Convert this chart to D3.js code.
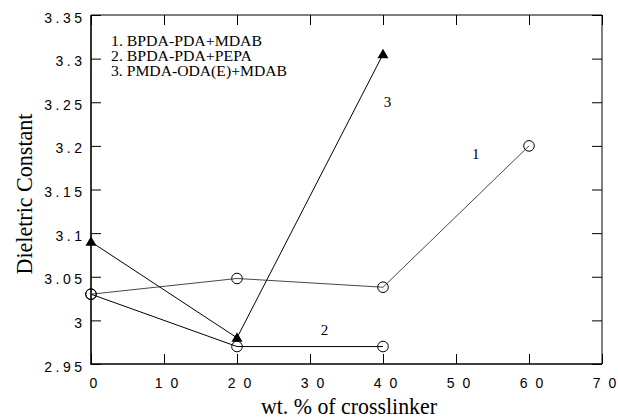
<!DOCTYPE html>
<html>
<head>
<meta charset="utf-8">
<script src="https://cdn.jsdelivr.net/npm/d3@7"></script>
<style>
  body { margin: 0; background: #fff; }
  svg { display: block; }
</style>
</head>
<body>
<svg id="chart" width="618" height="418"></svg>
<script>
// Crosslinker loading (wt.%) and measured dielectric constants
const loading1 = [0, 20, 40, 60];
const series1 = [3.03, 3.048, 3.038, 3.2];      // 1. BPDA-PDA+MDAB
const loading2 = [0, 20, 40];
const series2 = [3.03, 2.97, 2.97];              // 2. BPDA-PDA+PEPA
const loading3 = [0, 20, 40];
const series3 = [3.09, 2.98, 3.305];             // 3. PMDA-ODA(E)+MDAB

const xTicks = [0, 10, 20, 30, 40, 50, 60, 70];
const yTicks = [2.95, 3, 3.05, 3.1, 3.15, 3.2, 3.25, 3.3, 3.35];
const legendLines = ["1. BPDA-PDA+MDAB", "2. BPDA-PDA+PEPA", "3. PMDA-ODA(E)+MDAB"];

const margin = { left: 91, right: 16, top: 15, bottom: 54 };
const W = 618, H = 418;
const svg = d3.select("#chart");

const x = d3.scaleLinear().domain([0, 70]).range([margin.left, W - margin.right]);
const y = d3.scaleLinear().domain([2.95, 3.35]).range([H - margin.bottom, margin.top]);

const tickLen = 10;
const sans = "'Liberation Sans', Arial, sans-serif";
const serif = "'Liberation Serif', 'Times New Roman', serif";

// Re-set a tick label as one tspan per character, spaced apart
// (no trailing gap after the last character).
function spaceOut(sel, gap) {
  sel.each(function () {
    const t = d3.select(this);
    const chars = t.text().split("");
    t.text(null);
    chars.forEach((c, i) => t.append("tspan").attr("dx", i ? gap : 0).text(c));
  });
}

// Bottom axis with inward ticks; widely spaced digits
const gx = svg.append("g")
  .attr("transform", `translate(0,${y(2.95)})`)
  .call(d3.axisBottom(x).tickValues(xTicks).tickSizeInner(-tickLen).tickSizeOuter(0)
        .tickPadding(14).tickFormat(d3.format("d")));
gx.select(".domain").remove();
gx.selectAll(".tick line").attr("stroke", "#000").attr("stroke-width", 1);
gx.selectAll(".tick text")
  .attr("font-family", sans).attr("font-size", 14).attr("fill", "#000")
  .attr("x", 2)
  .call(spaceOut, 8);

// Left axis with inward ticks
const gy = svg.append("g")
  .attr("transform", `translate(${x(0)},0)`)
  .call(d3.axisLeft(y).tickValues(yTicks).tickSizeInner(-tickLen).tickSizeOuter(0)
        .tickPadding(9).tickFormat(d => String(+d.toFixed(2))));
gy.select(".domain").remove();
gy.selectAll(".tick line").attr("stroke", "#000").attr("stroke-width", 1);
gy.selectAll(".tick text")
  .attr("font-family", sans).attr("font-size", 14).attr("fill", "#000")
  .attr("dy", "0.5em")
  .call(spaceOut, 3.5);

// Top and right mirror ticks
const gt = svg.append("g")
  .attr("transform", `translate(0,${y(3.35)})`)
  .call(d3.axisTop(x).tickValues(xTicks).tickSizeInner(-tickLen).tickSizeOuter(0).tickFormat(""));
gt.select(".domain").remove();
gt.selectAll(".tick line").attr("stroke", "#000").attr("stroke-width", 1);

const gr = svg.append("g")
  .attr("transform", `translate(${x(70)},0)`)
  .call(d3.axisRight(y).tickValues(yTicks).tickSizeInner(-tickLen).tickSizeOuter(0).tickFormat(""));
gr.select(".domain").remove();
gr.selectAll(".tick line").attr("stroke", "#000").attr("stroke-width", 1);

// Plot frame: heavier left and bottom edges
const x0 = x(0), x1 = x(70), y0 = y(2.95), y1 = y(3.35);
svg.append("path")
  .attr("d", `M${x0},${y1}L${x1},${y1}L${x1},${y0}`)
  .attr("fill", "none").attr("stroke", "#000").attr("stroke-width", 1);
svg.append("path")
  .attr("d", `M${x0},${y1}L${x0},${y0}L${x1},${y0}`)
  .attr("fill", "none").attr("stroke", "#000").attr("stroke-width", 1.6);

// Series lines
const line = d3.line().x(d => x(d[0])).y(d => y(d[1]));
const zip = (a, b) => a.map((v, i) => [v, b[i]]);

const data1 = zip(loading1, series1);
const data2 = zip(loading2, series2);
const data3 = zip(loading3, series3);

svg.append("path").datum(data1).attr("d", line)
  .attr("fill", "none").attr("stroke", "#333").attr("stroke-width", 0.9);
svg.append("path").datum(data2).attr("d", line)
  .attr("fill", "none").attr("stroke", "#000").attr("stroke-width", 1);
svg.append("path").datum(data3).attr("d", line)
  .attr("fill", "none").attr("stroke", "#000").attr("stroke-width", 1);

// Markers: open circles for series 1 and 2, filled triangles for series 3
svg.append("g").selectAll("circle").data(data1.concat(data2)).join("circle")
  .attr("cx", d => x(d[0])).attr("cy", d => y(d[1])).attr("r", 5.3)
  .attr("fill", "none").attr("stroke", "#000").attr("stroke-width", 1);

const triPath = "M0,-5.5L5.5,4L-5.5,4Z";
svg.append("g").selectAll("path").data(data3).join("path")
  .attr("d", triPath)
  .attr("transform", d => `translate(${x(d[0])},${y(d[1])})`)
  .attr("fill", "#000");

// Legend text
const legendWidths = [151, 141, 176];
svg.append("g").selectAll("text").data(legendLines).join("text")
  .attr("x", 111).attr("y", (d, i) => 46 + i * 15.2)
  .attr("font-family", serif).attr("font-size", 15).attr("fill", "#000")
  .attr("textLength", (d, i) => legendWidths[i])
  .attr("lengthAdjust", "spacingAndGlyphs")
  .text(d => d);

// Curve numbers
const curveLabels = [
  { t: "3", x: 40.6, y: 3.245 },
  { t: "1", x: 52.7, y: 3.185 },
  { t: "2", x: 32.0, y: 2.983 }
];
svg.append("g").selectAll("text").data(curveLabels).join("text")
  .attr("x", d => x(d.x)).attr("y", d => y(d.y))
  .attr("text-anchor", "middle")
  .attr("font-family", serif).attr("font-size", 15).attr("fill", "#000")
  .text(d => d.t);

// Axis titles
svg.append("text")
  .attr("x", 349).attr("y", 414)
  .attr("text-anchor", "middle")
  .attr("font-family", serif).attr("font-size", 24).attr("fill", "#000")
  .attr("textLength", 176).attr("lengthAdjust", "spacingAndGlyphs")
  .text("wt. % of crosslinker");

svg.append("text")
  .attr("transform", `translate(32,194) rotate(-90)`)
  .attr("text-anchor", "middle")
  .attr("font-family", serif).attr("font-size", 24).attr("fill", "#000")
  .attr("textLength", 161).attr("lengthAdjust", "spacingAndGlyphs")
  .text("Dieletric Constant");
</script>
</body>
</html>
